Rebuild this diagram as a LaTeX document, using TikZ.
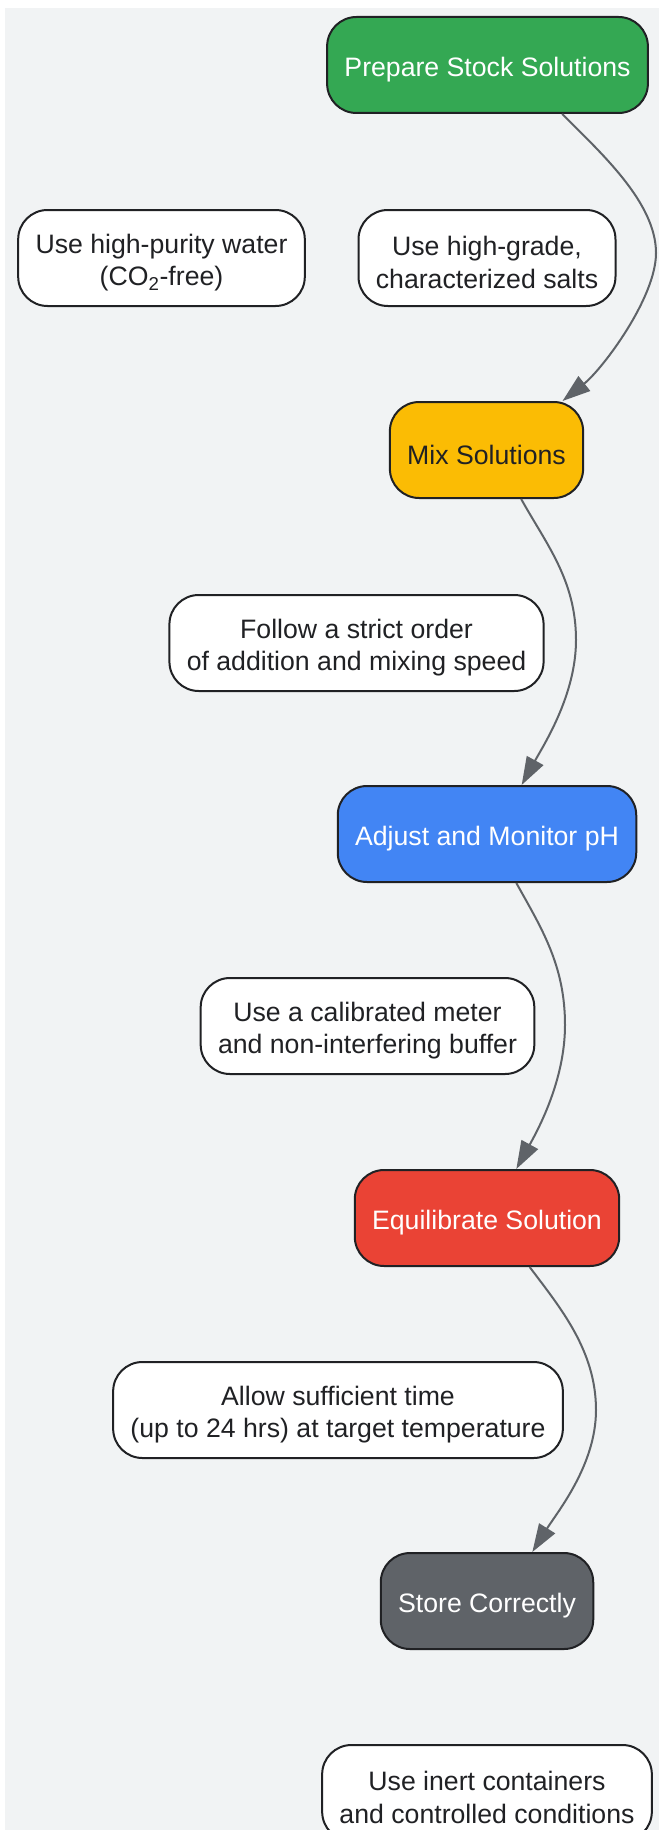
\documentclass[tikz,border=0pt]{standalone}
\usepackage{fontspec}
\setmainfont{Liberation Sans}
\usetikzlibrary{arrows.meta}
\definecolor{pagebg}{HTML}{F1F3F4}
\definecolor{inkline}{HTML}{202124}
\definecolor{edgegray}{HTML}{5F6368}
\definecolor{stepgreen}{HTML}{34A853}
\definecolor{stepyellow}{HTML}{FBBC04}
\definecolor{stepblue}{HTML}{4285F4}
\definecolor{stepred}{HTML}{EA4335}
\definecolor{stepgray}{HTML}{5F6368}
\newcommand{\lift}{\rule{0pt}{21.5pt}}
\tikzset{
  stepnode/.style={draw=inkline,line width=1.5pt,rounded corners=22pt,minimum height=72pt,inner xsep=13pt,align=center,font=\fontsize{20}{24.5}\selectfont,text=white},
  tipnode/.style={stepnode,fill=white,text=inkline},
  flow/.style={draw=edgegray,line width=1.5pt,-{Triangle[length=21pt,width=14pt]}}
}

\begin{document}
\begin{tikzpicture}[x=0.75pt,y=0.75pt]
\useasboundingbox (0,0) rectangle (659,-1830);
\fill[pagebg] (5,-8) rectangle (659,-1830);
% steps
\node[stepnode,fill=stepgreen] (prep) at (487.5,-65) {\lift Prepare Stock Solutions};
\node[stepnode,fill=stepyellow,text=inkline] (mix) at (486.5,-450) {\lift Mix Solutions};
\node[stepnode,fill=stepblue] (adjust) at (487,-834) {\lift Adjust and Monitor pH};
\node[stepnode,fill=stepred] (equil) at (487,-1218) {\lift Equilibrate Solution};
\node[stepnode,fill=stepgray] (store) at (487,-1601) {\lift Store Correctly};
% notes
\node[tipnode] (water) at (161.5,-258) {\lift Use high-purity water\\(CO\textsubscript{2}-free)};
\node[tipnode] (salts) at (487,-258) {\lift Use high-grade,\\characterized salts};
\node[tipnode] (order) at (356.5,-643) {\lift Follow a strict order\\of addition and mixing speed};
\node[tipnode] (meter) at (367.5,-1026) {\lift Use a calibrated meter\\and non-interfering buffer};
\node[tipnode] (wait) at (338,-1410) {\lift Allow sufficient time\\(up to 24 hrs) at target temperature};
\node[tipnode] (inert) at (487,-1793) {\lift Use inert containers\\and controlled conditions};
% bends
\coordinate (bend1) at (656,-253);
\coordinate (bend2) at (576,-640);
\coordinate (bend3) at (565,-1025);
\coordinate (bend4) at (596,-1410);
% flow
\draw[flow] ([xshift=56pt]prep.south) .. controls +(40,-40) and +(0,50) .. (bend1) .. controls +(0,-45) and +(40,32) .. ([xshift=57pt]mix.north);
\draw[flow] ([xshift=26pt]mix.south) .. controls +(25,-45) and +(0,60) .. (bend2) .. controls +(0,-55) and +(22,40) .. ([xshift=26pt]adjust.north);
\draw[flow] ([xshift=22pt]adjust.south) .. controls +(25,-45) and +(0,60) .. (bend3) .. controls +(0,-55) and +(22,40) .. ([xshift=22pt]equil.north);
\draw[flow] ([xshift=32pt]equil.south) .. controls +(30,-40) and +(0,60) .. (bend4) .. controls +(0,-55) and +(25,40) .. ([xshift=34pt]store.north);
\end{tikzpicture}
\end{document}
